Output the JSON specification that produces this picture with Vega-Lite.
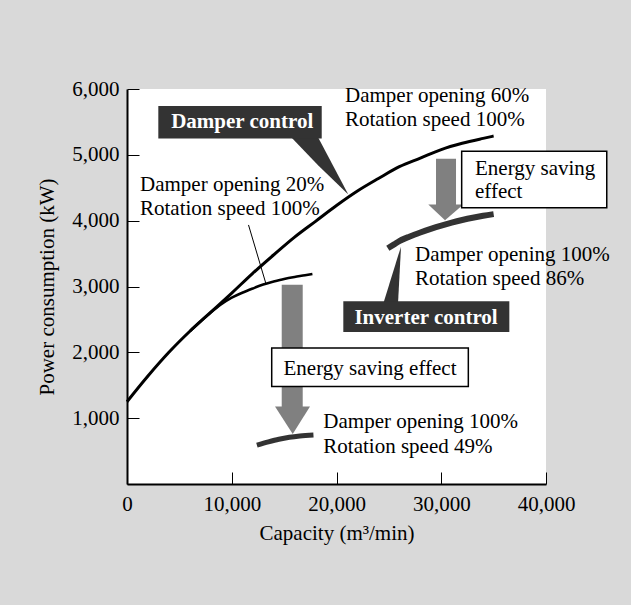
{
  "$schema": "https://vega.github.io/schema/vega-lite/v6.json",
  "width": 419,
  "height": 395,
  "autosize": "none",
  "padding": {"left": 127, "top": 89, "right": 85, "bottom": 121},
  "background": "#d9d9d9",
  "config": {
    "view": {"fill": "white", "stroke": null},
    "font": "Liberation Serif",
    "axis": {
      "grid": false,
      "domainColor": "black",
      "domainWidth": 2,
      "tickColor": "black",
      "tickWidth": 1,
      "tickSize": -12,
      "labelFont": "Liberation Serif",
      "labelFontSize": 21,
      "labelColor": "black",
      "titleFont": "Liberation Serif",
      "titleFontSize": 21,
      "titleFontWeight": "normal",
      "titleColor": "black",
      "labelFlush": false,
      "labelOverlap": false
    }
  },
  "datasets": {
    "curves": [
      {"s": "main", "x": 0, "y": 1250}, {"s": "main", "x": 2000, "y": 1640}, {"s": "main", "x": 4000, "y": 2000},
      {"s": "main", "x": 6000, "y": 2320}, {"s": "main", "x": 8000, "y": 2610}, {"s": "main", "x": 10000, "y": 2900},
      {"s": "main", "x": 12000, "y": 3200}, {"s": "main", "x": 14000, "y": 3480}, {"s": "main", "x": 16000, "y": 3750},
      {"s": "main", "x": 18000, "y": 3990}, {"s": "main", "x": 20000, "y": 4230}, {"s": "main", "x": 22000, "y": 4450},
      {"s": "main", "x": 24000, "y": 4640}, {"s": "main", "x": 26000, "y": 4820}, {"s": "main", "x": 28000, "y": 4950},
      {"s": "main", "x": 30000, "y": 5080}, {"s": "main", "x": 32000, "y": 5175}, {"s": "main", "x": 34000, "y": 5250},
      {"s": "main", "x": 35000, "y": 5285},
      {"s": "d20", "x": 6000, "y": 2320}, {"s": "d20", "x": 7000, "y": 2465}, {"s": "d20", "x": 8000, "y": 2605},
      {"s": "d20", "x": 9000, "y": 2730}, {"s": "d20", "x": 10000, "y": 2830}, {"s": "d20", "x": 11000, "y": 2905},
      {"s": "d20", "x": 12000, "y": 2970}, {"s": "d20", "x": 13000, "y": 3030}, {"s": "d20", "x": 14000, "y": 3075},
      {"s": "d20", "x": 15000, "y": 3115}, {"s": "d20", "x": 16000, "y": 3145}, {"s": "d20", "x": 17000, "y": 3170},
      {"s": "d20", "x": 17700, "y": 3190},
      {"s": "inv86", "x": 24900, "y": 3580}, {"s": "inv86", "x": 25500, "y": 3640}, {"s": "inv86", "x": 26000, "y": 3690},
      {"s": "inv86", "x": 27000, "y": 3760}, {"s": "inv86", "x": 28000, "y": 3820}, {"s": "inv86", "x": 29000, "y": 3875},
      {"s": "inv86", "x": 30000, "y": 3925}, {"s": "inv86", "x": 31000, "y": 3970}, {"s": "inv86", "x": 32000, "y": 4010},
      {"s": "inv86", "x": 33000, "y": 4045}, {"s": "inv86", "x": 34000, "y": 4075}, {"s": "inv86", "x": 35000, "y": 4100},
      {"s": "inv49", "x": 12400, "y": 590}, {"s": "inv49", "x": 13500, "y": 640}, {"s": "inv49", "x": 14500, "y": 680},
      {"s": "inv49", "x": 15500, "y": 710}, {"s": "inv49", "x": 16500, "y": 730}, {"s": "inv49", "x": 17800, "y": 745}
    ],
    "boxes": [
      {"id": "damper", "kind": "dark", "x": 2990, "x2": 18590, "y": 5250, "y2": 5740},
      {"id": "inverter", "kind": "dark", "x": 20650, "x2": 36500, "y": 2310, "y2": 2775},
      {"id": "effect1", "kind": "white", "x": 31950, "x2": 45800, "y": 4195, "y2": 5055},
      {"id": "effect2", "kind": "white", "x": 13815, "x2": 32585, "y": 1480, "y2": 2065},
      {"id": "shaft1", "kind": "shaft", "x": 29500, "x2": 31410, "y": 4200, "y2": 4939},
      {"id": "shaft2", "kind": "shaft", "x": 14770, "x2": 16775, "y": 1130, "y2": 3027}
    ],
    "tris": [
      {"id": "dc", "kind": "dark", "x": 15724, "y": 5260, "y2": 5260},
      {"id": "dc", "kind": "dark", "x": 18263, "y": 5260, "y2": 4839},
      {"id": "dc", "kind": "dark", "x": 21127, "y": 4396, "y2": 4396},
      {"id": "ic", "kind": "dark", "x": 24469, "y": 2740, "y2": 2740},
      {"id": "ic", "kind": "dark", "x": 25872, "y": 3463, "y2": 2740},
      {"id": "ic", "kind": "dark", "x": 26159, "y": 3605, "y2": 3605},
      {"id": "h1", "kind": "head", "x": 28765, "y": 4244, "y2": 4244},
      {"id": "h1", "kind": "head", "x": 30360, "y": 4244, "y2": 4008},
      {"id": "h1", "kind": "head", "x": 32107, "y": 4244, "y2": 4244},
      {"id": "h2", "kind": "head", "x": 14130, "y": 1176, "y2": 1176},
      {"id": "h2", "kind": "head", "x": 15820, "y": 1176, "y2": 760},
      {"id": "h2", "kind": "head", "x": 17471, "y": 1176, "y2": 1176}
    ],
    "pointer": [
      {"x": 11600, "y": 3935, "x2": 13250, "y2": 3050}
    ],
    "labels": [
      {"kind": "plain", "t": "Damper opening 60%", "x": 20812, "y": 5800},
      {"kind": "plain", "t": "Rotation speed 100%", "x": 20812, "y": 5445},
      {"kind": "plain", "t": "Damper opening 20%", "x": 1241, "y": 4446},
      {"kind": "plain", "t": "Rotation speed 100%", "x": 1241, "y": 4091},
      {"kind": "plain", "t": "Damper opening 100%", "x": 27495, "y": 3381},
      {"kind": "plain", "t": "Rotation speed 86%", "x": 27495, "y": 3027},
      {"kind": "plain", "t": "Damper opening 100%", "x": 18741, "y": 847},
      {"kind": "plain", "t": "Rotation speed 49%", "x": 18741, "y": 467},
      {"kind": "plain", "t": "Energy saving", "x": 33224, "y": 4700},
      {"kind": "plain", "t": "effect", "x": 33224, "y": 4345},
      {"kind": "center", "t": "Energy saving effect", "x": 23199, "y": 1658},
      {"kind": "bold", "t": "Damper control", "x": 11000, "y": 5415},
      {"kind": "bold", "t": "Inverter control", "x": 28550, "y": 2434}
    ]
  },
  "encoding": {
    "x": {
      "field": "x", "type": "quantitative",
      "scale": {"domain": [0, 40000], "nice": false, "zero": false},
      "axis": {"title": "Capacity (m³/min)", "values": [0, 10000, 20000, 30000, 40000], "format": ",.0f", "labelPadding": 21, "titlePadding": 8}
    },
    "y": {
      "field": "y", "type": "quantitative",
      "scale": {"domain": [0, 6000], "nice": false, "zero": false},
      "axis": {"title": "Power consumption (kW)", "values": [1000, 2000, 3000, 4000, 5000, 6000], "format": ",.0f", "labelPadding": 20, "titlePadding": 14}
    }
  },
  "layer": [
    {
      "data": {"name": "boxes"},
      "transform": [{"filter": "datum.kind == 'shaft'"}],
      "mark": {"type": "rect", "color": "#808080"},
      "encoding": {"x2": {"field": "x2"}, "y2": {"field": "y2"}}
    },
    {
      "data": {"name": "tris"},
      "transform": [{"filter": "datum.kind == 'head'"}],
      "mark": {"type": "area", "color": "#808080"},
      "encoding": {"y2": {"field": "y2"}, "detail": {"field": "id"}}
    },
    {
      "data": {"name": "curves"},
      "transform": [{"filter": "datum.s == 'main'"}],
      "mark": {"type": "line", "color": "black", "strokeWidth": 3, "interpolate": "monotone"}
    },
    {
      "data": {"name": "curves"},
      "transform": [{"filter": "datum.s == 'd20'"}],
      "mark": {"type": "line", "color": "black", "strokeWidth": 2.5, "interpolate": "monotone"}
    },
    {
      "data": {"name": "curves"},
      "transform": [{"filter": "datum.s == 'inv86'"}],
      "mark": {"type": "line", "color": "#333333", "strokeWidth": 6, "interpolate": "monotone"}
    },
    {
      "data": {"name": "curves"},
      "transform": [{"filter": "datum.s == 'inv49'"}],
      "mark": {"type": "line", "color": "#333333", "strokeWidth": 5, "interpolate": "monotone"}
    },
    {
      "data": {"name": "tris"},
      "transform": [{"filter": "datum.kind == 'dark'"}],
      "mark": {"type": "area", "color": "#333333"},
      "encoding": {"y2": {"field": "y2"}, "detail": {"field": "id"}}
    },
    {
      "data": {"name": "boxes"},
      "transform": [{"filter": "datum.kind == 'dark'"}],
      "mark": {"type": "rect", "color": "#333333"},
      "encoding": {"x2": {"field": "x2"}, "y2": {"field": "y2"}}
    },
    {
      "data": {"name": "boxes"},
      "transform": [{"filter": "datum.kind == 'white'"}],
      "mark": {"type": "rect", "fill": "white", "stroke": "black", "strokeWidth": 1.5},
      "encoding": {"x2": {"field": "x2"}, "y2": {"field": "y2"}}
    },
    {
      "data": {"name": "pointer"},
      "mark": {"type": "rule", "color": "black", "strokeWidth": 1},
      "encoding": {"x2": {"field": "x2"}, "y2": {"field": "y2"}}
    },
    {
      "data": {"name": "labels"},
      "transform": [{"filter": "datum.kind == 'plain'"}],
      "mark": {"type": "text", "align": "left", "baseline": "alphabetic", "font": "Liberation Serif", "fontSize": 21, "color": "black"},
      "encoding": {"text": {"field": "t"}}
    },
    {
      "data": {"name": "labels"},
      "transform": [{"filter": "datum.kind == 'center'"}],
      "mark": {"type": "text", "align": "center", "baseline": "alphabetic", "font": "Liberation Serif", "fontSize": 21, "color": "black"},
      "encoding": {"text": {"field": "t"}}
    },
    {
      "data": {"name": "labels"},
      "transform": [{"filter": "datum.kind == 'bold'"}],
      "mark": {"type": "text", "align": "center", "baseline": "alphabetic", "font": "Liberation Serif", "fontSize": 21, "fontWeight": "bold", "color": "white"},
      "encoding": {"text": {"field": "t"}}
    }
  ]
}
